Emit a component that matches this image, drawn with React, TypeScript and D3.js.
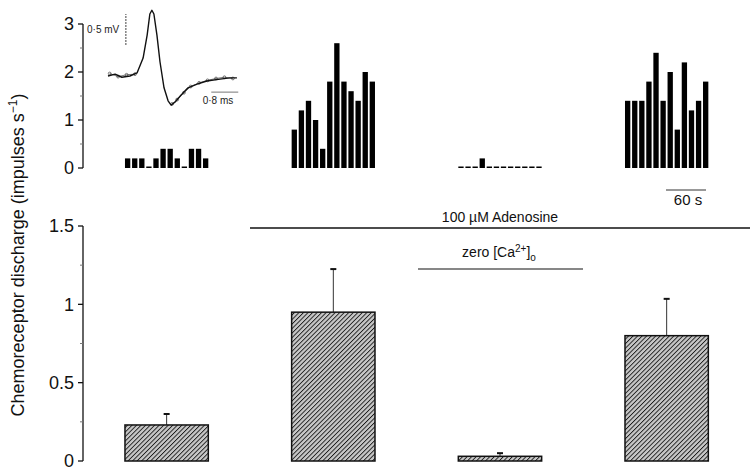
import React from 'react';
import { scaleBand, scaleLinear, line } from 'd3';

// conditions (one column each)
const conditions = ['control', 'adenosine', 'adenosine + zero Ca', 'adenosine recovery'];

// mean discharge and upper error (impulses/s)
const meanRate = [0.23, 0.95, 0.03, 0.8];
const errTop = [0.3, 1.225, 0.05, 1.035];

// example single-fibre rate histograms, 5 s bins (impulses/s)
const histControl = [0.2, 0.2, 0.2, 0, 0.2, 0.4, 0.4, 0.2, 0, 0.4, 0.4, 0.2];
const histAdenosine = [0.8, 1.2, 1.4, 1.0, 0.4, 1.8, 2.6, 1.8, 1.6, 1.4, 2.0, 1.8];
const histZeroCa = [0, 0, 0, 0.2, 0, 0, 0, 0, 0, 0, 0, 0];
const histRecovery = [1.4, 1.4, 1.4, 1.8, 2.4, 1.4, 2.0, 0.8, 2.2, 1.2, 1.4, 1.8];
const histograms = [histControl, histAdenosine, histZeroCa, histRecovery];

const topTicks = [0, 1, 2, 3];
const topMinor = [0.5, 1.5, 2.5];
const bottomTicks = [0, 0.5, 1, 1.5];
const bottomMinor = [0.25, 0.75, 1.25];

// action potential inset: time (ms), voltage (mV)
const traceT = [0, 0.21, 0.41, 0.65, 0.86, 1.04, 1.16, 1.24, 1.3, 1.36, 1.45, 1.54, 1.66, 1.78, 1.87, 1.99, 2.16, 2.37, 2.64, 2.93, 3.32, 3.61, 3.82];
const traceV = [0, 0.03, -0.02, 0, 0.05, 0.29, 0.66, 1.0, 1.06, 1.0, 0.66, 0.23, -0.19, -0.4, -0.47, -0.42, -0.31, -0.19, -0.13, -0.08, -0.05, -0.03, -0.03];
// second (superimposed) sweep, baseline and recovery parts
const sweepPreT = [0.05, 0.3, 0.55, 0.8];
const sweepPreV = [0.04, -0.01, 0.02, 0.03];
const sweepPostT = [1.9, 2.05, 2.25, 2.45, 2.7, 2.95, 3.2, 3.45, 3.7];
const sweepPostV = [-0.45, -0.38, -0.27, -0.17, -0.11, -0.07, -0.04, -0.02, -0.04];

const W = 750;
const H = 473;
const font = 'Liberation Sans, Arial, Helvetica, sans-serif';

export default function App() {
  const axisX = 83;

  const x = scaleBand<string>()
    .domain(conditions)
    .range([83.3, 750])
    .paddingInner(0.5)
    .paddingOuter(0.25);

  const bin = scaleBand<number>()
    .domain(histControl.map((d, i) => i))
    .range([0, x.bandwidth()])
    .paddingInner(0.25);

  const yTop = scaleLinear().domain([0, 3]).range([168, 24]);
  const yBot = scaleLinear().domain([0, 1.5]).range([461, 226]);

  // inset scales
  const tx = scaleLinear().domain([0, 3.8]).range([108, 236.25]);
  const vy = scaleLinear().domain([0, 1]).range([76, 14]);
  const mkLine = (ts: number[]) => line<number>().x((d, i) => tx(ts[i])).y((d) => vy(d));
  const sweeps = [
    { t: sweepPreT, v: sweepPreV },
    { t: sweepPostT, v: sweepPostV },
  ];

  return (
    <div style={{ position: 'absolute', left: 0, top: 0 }}>
      <svg width={W} height={H} style={{ display: 'block', background: '#fff' }} fontFamily={font}>
        <defs>
          <pattern id="hatch" patternUnits="userSpaceOnUse" width={3.2} height={3.2} patternTransform="rotate(45)">
            <rect width={3.2} height={3.2} fill="#c8c8c8" />
            <line x1={0} y1={0} x2={0} y2={3.2} stroke="#1a1a1a" strokeWidth={1.8} />
          </pattern>
        </defs>

        {/* y label */}
        <text transform="translate(24,255) rotate(-90)" textAnchor="middle" fontSize={18} fill="#111">
          Chemoreceptor discharge (impulses s<tspan dy={-7} fontSize={12}>−1</tspan><tspan dy={7}>)</tspan>
        </text>

        {/* top axis */}
        <line x1={axisX} x2={axisX} y1={yTop(3)} y2={yTop(0)} stroke="#111" strokeWidth={1.3} />
        {topTicks.map((t) => (
          <g key={'tt' + t}>
            <line x1={axisX - 5} x2={axisX} y1={yTop(t)} y2={yTop(t)} stroke="#111" strokeWidth={1.3} />
            <text x={74} y={yTop(t)} dy="0.36em" textAnchor="end" fontSize={18} fill="#111">{t}</text>
          </g>
        ))}
        {topMinor.map((t) => (
          <line key={'tm' + t} x1={axisX - 3} x2={axisX} y1={yTop(t)} y2={yTop(t)} stroke="#777" strokeWidth={1} />
        ))}

        {/* histograms */}
        {histograms.map((h, g) =>
          h.map((v, i) => {
            const x0 = (x(conditions[g]) as number) + (bin(i) as number);
            const y0 = v > 0 ? yTop(v) : yTop(0) - 1.5;
            return <rect key={'h' + g + '-' + i} x={x0} y={y0} width={bin.bandwidth()} height={yTop(0) - y0} fill="#000" />;
          })
        )}

        {/* inset action potential */}
        {sweeps.map((s, k) => (
          <g key={'s' + k}>
            <path d={mkLine(s.t)(s.v) || ''} fill="none" stroke="#555" strokeWidth={0.8} />
            {s.v.map((v, i) => (
              <circle key={'c' + i} cx={tx(s.t[i])} cy={vy(v)} r={1.4} fill="none" stroke="#444" strokeWidth={0.7} />
            ))}
          </g>
        ))}
        <path d={mkLine(traceT)(traceV) || ''} fill="none" stroke="#111" strokeWidth={1.4} strokeLinejoin="round" />
        <line x1={tx(0.53)} x2={tx(0.53)} y1={vy(0.5)} y2={vy(1)} stroke="#444" strokeWidth={1} strokeDasharray="2 1" />
        <text x={87} y={29} dy="0.35em" fontSize={10} fill="#222">0·5 mV</text>
        <line x1={tx(3.06)} x2={tx(3.86)} y1={vy(-0.26)} y2={vy(-0.26)} stroke="#777" strokeWidth={1} />
        <text x={218} y={100} dy="0.35em" textAnchor="middle" fontSize={10} fill="#222">0·8 ms</text>

        {/* 60 s scale bar */}
        <line x1={666} x2={706} y1={190} y2={190} stroke="#333" strokeWidth={1} />
        <text x={688} y={205} textAnchor="middle" fontSize={15} fill="#111">60 s</text>

        {/* bottom axis */}
        <line x1={axisX} x2={axisX} y1={yBot(1.5)} y2={yBot(0)} stroke="#111" strokeWidth={1.3} />
        {bottomTicks.map((t) => (
          <g key={'bt' + t}>
            <line x1={axisX - 5} x2={axisX} y1={yBot(t)} y2={yBot(t)} stroke="#111" strokeWidth={1.3} />
            <text x={74} y={yBot(t)} dy="0.36em" textAnchor="end" fontSize={18} fill="#111">{t}</text>
          </g>
        ))}
        {bottomMinor.map((t) => (
          <line key={'bm' + t} x1={axisX - 3} x2={axisX} y1={yBot(t)} y2={yBot(t)} stroke="#777" strokeWidth={1} />
        ))}

        {/* treatment bars */}
        <line x1={250} x2={750} y1={228} y2={228} stroke="#111" strokeWidth={1.3} />
        <text x={500} y={222} textAnchor="middle" fontSize={14} fill="#111">100 µM Adenosine</text>
        <line x1={418} x2={583} y1={269} y2={269} stroke="#111" strokeWidth={1.1} />
        <text x={499} y={257} textAnchor="middle" fontSize={14} fill="#111">
          zero [Ca<tspan dy={-5} fontSize={10}>2+</tspan><tspan dy={5}>]</tspan><tspan dy={4} fontSize={10}>o</tspan>
        </text>

        {/* mean bars with error */}
        {conditions.map((c, i) => {
          const cx = (x(c) as number) + x.bandwidth() / 2;
          return (
            <g key={c}>
              <line x1={cx} x2={cx} y1={yBot(meanRate[i])} y2={yBot(errTop[i])} stroke="#333" strokeWidth={1} />
              <line x1={cx - 3} x2={cx + 3} y1={yBot(errTop[i])} y2={yBot(errTop[i])} stroke="#111" strokeWidth={2} />
              <rect x={x(c)} y={yBot(meanRate[i])} width={x.bandwidth()} height={yBot(0) - yBot(meanRate[i])} fill="url(#hatch)" stroke="#111" strokeWidth={1.5} />
            </g>
          );
        })}
      </svg>
    </div>
  );
}
